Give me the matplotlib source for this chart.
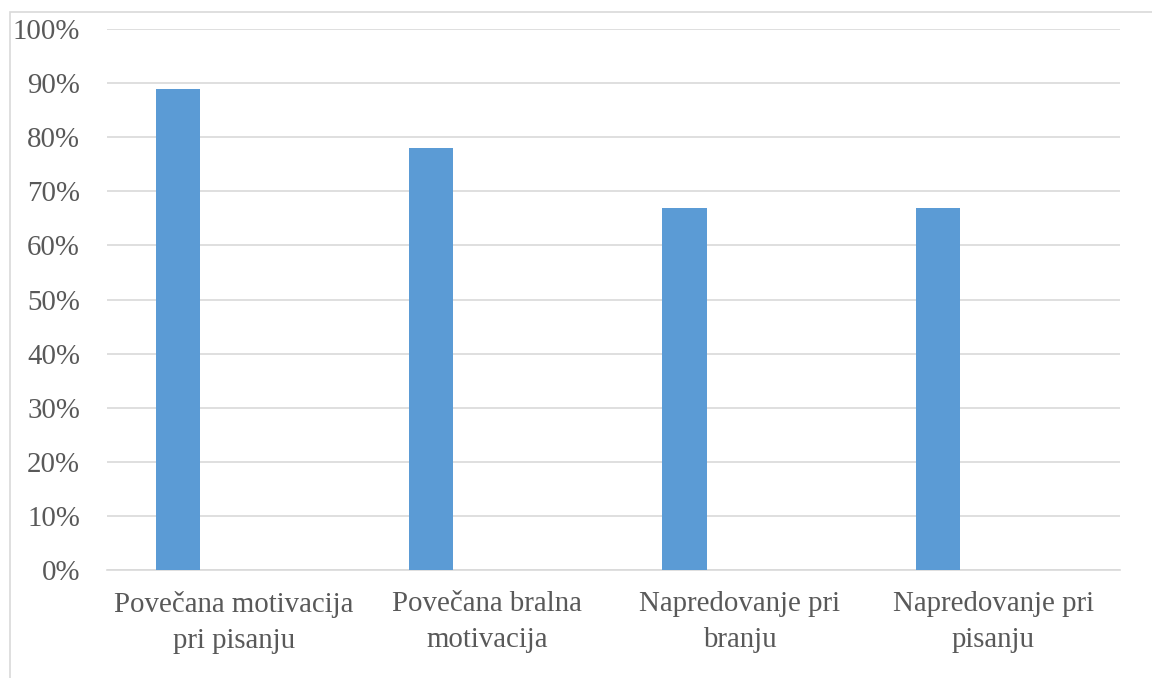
import numpy as np
import matplotlib.pyplot as plt
from matplotlib.patches import Rectangle
from matplotlib.ticker import PercentFormatter

# survey results, share of respondents
categories = ["Povečana motivacija\npri pisanju", "Povečana bralna\nmotivacija",
              "Napredovanje pri\nbranju", "Napredovanje pri\npisanju"]
values = [89, 78, 67, 67]
yticks = [0, 10, 20, 30, 40, 50, 60, 70, 80, 90, 100]

plt.rcParams['font.family'] = ['Liberation Serif', 'DejaVu Serif']
text_color = "#595959"
grid_color = "#d9d9d9"

fig = plt.figure(figsize=(11.52, 6.78), dpi=100)
ax = fig.add_axes([0.0929, 0.1593, 0.8791, 0.7979])

x = np.arange(len(categories))
ax.bar(x - 0.219, values, width=0.174, color="#5b9bd5", zorder=3)

ax.set_xlim(-0.5, len(categories) - 0.5)
ax.set_ylim(0, 100)
ax.set_yticks(yticks)
ax.yaxis.set_major_formatter(PercentFormatter(decimals=0))
ax.set_xticks(x)
ax.set_xticklabels(categories, linespacing=1.5)
ax.tick_params(axis='both', length=0, labelsize=20.8, colors=text_color)
ax.tick_params(axis='y', pad=19.5)
ax.tick_params(axis='x', pad=15)
ax.grid(axis='y', color=grid_color, linewidth=1.2, zorder=0)
for side in ['top', 'right', 'left']:
    ax.spines[side].set_visible(False)
ax.spines['bottom'].set_color(grid_color)
ax.spines['bottom'].set_linewidth(1.2)

# chart frame
fig.patches.append(Rectangle((10 / 1152, -0.05), 1.1, 1 - 12 / 678 + 0.05,
                             transform=fig.transFigure, fill=False,
                             edgecolor=grid_color, linewidth=1.2))

fig.savefig("out.png", dpi=100)
